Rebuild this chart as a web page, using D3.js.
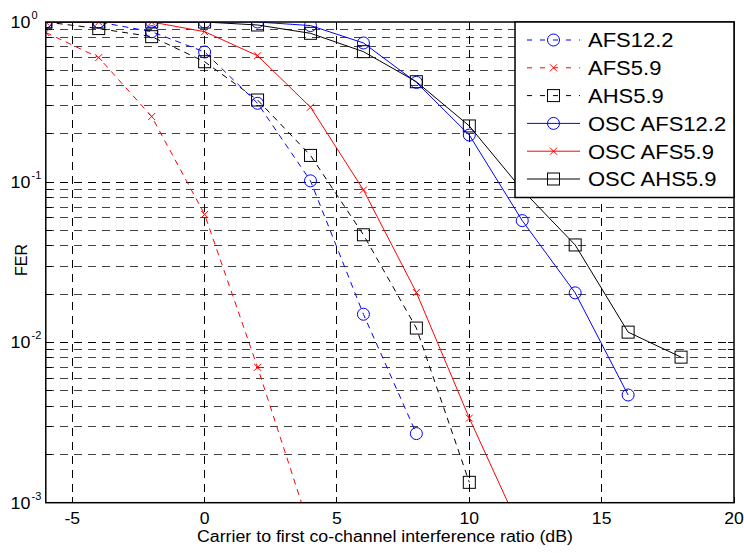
<!DOCTYPE html>
<html><head><meta charset="utf-8">
<script src="https://cdn.jsdelivr.net/npm/d3@7"></script>
<style>body{margin:0;background:#fff}svg{display:block}text{font-family:Arial,"Liberation Sans",sans-serif}</style>
</head><body><svg id="c" width="744" height="553"></svg>
<script>
const xTicks=[-5,0,5,10,15,20];
const yMajor=[1e-3,1e-2,1e-1,1];
const yExp=["-3","-2","-1","0"];
const xLabel="Carrier to first co-channel interference ratio (dB)";
const yLabel="FER";
const names=["AFS12.2","AFS5.9","AHS5.9","OSC AFS12.2","OSC AFS5.9","OSC AHS5.9"];
const colors=["#0000ff","#ff0000","#000000","#0000ff","#ff0000","#000000"];
const dashed=[true,true,true,false,false,false];
const markers=["circle","x","square","circle","x","square"];
const xAFS122=[-6,-4,-2,0,2,4,6,8];
const yAFS122=[1.0,1.0,0.87,0.65,0.311,0.102,0.015,0.0027];
const xAFS59=[-6,-4,-2,0,2,4];
const yAFS59=[0.86,0.60,0.257,0.063,0.0070,0.00067];
const xAHS59=[-6,-4,-2,0,2,4,6,8,10];
const yAHS59=[1.0,0.91,0.81,0.565,0.326,0.147,0.047,0.0123,0.00134];
const xOAFS122=[-6,-4,-2,0,2,4,6,8,10,12,14,16];
const yOAFS122=[1,1,1,1,1.0,0.95,0.74,0.42,0.197,0.0576,0.0204,0.0047];
const xOAFS59=[-6,-4,-2,0,2,4,6,8,10,12];
const yOAFS59=[1,1,1,0.87,0.616,0.294,0.0895,0.0205,0.00337,0.00064];
const xOAHS59=[-6,-4,-2,0,2,4,6,8,10,12,14,16,18];
const yOAHS59=[1,1,1,1,0.958,0.85,0.653,0.424,0.2245,0.0895,0.0406,0.0116,0.0081];
const seriesX=[xAFS122,xAFS59,xAHS59,xOAFS122,xOAFS59,xOAHS59];
const seriesY=[yAFS122,yAFS59,yAHS59,yOAFS122,yOAFS59,yOAHS59];

const L=45.8,R=734,T=22,B=502.7;
const svg=d3.select("#c");
const x=d3.scaleLinear().domain([-6,20]).range([L,R]);
const y=d3.scaleLog().domain([1e-3,1]).range([B,T]);

function stretch(t,k){const n=t.node();const w=n.getComputedTextLength();t.attr("textLength",w*k).attr("lengthAdjust","spacingAndGlyphs");return t;}

svg.append("defs").append("clipPath").attr("id","clip").append("rect")
 .attr("x",L).attr("y",T).attr("width",R-L).attr("height",B-T);

// grid
const minor=[];
for(let e=-3;e<0;e++)for(let m=1;m<10;m++)minor.push(m*Math.pow(10,e));
minor.push(1);
const g=svg.append("g");
g.selectAll("line.h").data(minor.filter(v=>v>1e-3&&v<1)).enter().append("line")
 .attr("x1",L).attr("x2",R).attr("y1",d=>y(d)).attr("y2",d=>y(d))
 .attr("stroke",d=>Math.abs(Math.log10(d)%1)<1e-9?"#000":"#444").attr("stroke-width",1)
 .attr("stroke-dasharray","8,6").attr("shape-rendering","crispEdges");
g.selectAll("line.v").data(xTicks.filter(v=>v<20)).enter().append("line")
 .attr("x1",d=>x(d)).attr("x2",d=>x(d)).attr("y1",T).attr("y2",B)
 .attr("stroke","#000").attr("stroke-width",1)
 .attr("stroke-dasharray","8,6").attr("shape-rendering","crispEdges");

// ticks (inward, all four sides)
const tk=svg.append("g").attr("stroke","#000").attr("stroke-width",1).attr("shape-rendering","crispEdges");
xTicks.forEach(v=>{
 tk.append("line").attr("x1",x(v)).attr("x2",x(v)).attr("y1",B).attr("y2",B-6);
 tk.append("line").attr("x1",x(v)).attr("x2",x(v)).attr("y1",T).attr("y2",T+6);
});
minor.filter(v=>v>=1e-3&&v<=1).forEach(v=>{
 tk.append("line").attr("x1",L).attr("x2",L+6).attr("y1",y(v)).attr("y2",y(v));
 tk.append("line").attr("x1",R).attr("x2",R-6).attr("y1",y(v)).attr("y2",y(v));
});

// series
const plot=svg.append("g").attr("clip-path","url(#clip)");
names.forEach((n,i)=>{
 const pts=seriesX[i].map((xv,j)=>[xv,seriesY[i][j]]);
 plot.append("path").datum(pts)
  .attr("d",d3.line().x(d=>x(d[0])).y(d=>y(d[1])))
  .attr("fill","none").attr("stroke",colors[i]).attr("stroke-width",1)
  .attr("stroke-dasharray",dashed[i]?"6,5":null);
 pts.forEach(p=>drawMarker(plot,markers[i],x(p[0]),y(p[1]),colors[i]));
});

function drawMarker(sel,type,cx,cy,col){
 if(type==="circle"){
  sel.append("circle").attr("cx",cx).attr("cy",cy).attr("r",6).attr("fill","none").attr("stroke",col).attr("stroke-width",1);
 }else if(type==="square"){
  sel.append("rect").attr("x",cx-6).attr("y",cy-6).attr("width",12).attr("height",12).attr("fill","none").attr("stroke",col).attr("stroke-width",1);
 }else{
  const s=3.5;
  sel.append("path").attr("d",`M${cx-s},${cy-s}L${cx+s},${cy+s}M${cx-s},${cy+s}L${cx+s},${cy-s}`).attr("stroke",col).attr("stroke-width",1).attr("fill","none");
 }
}

// frame
svg.append("rect").attr("x",L).attr("y",T).attr("width",R-L).attr("height",B-T)
 .attr("fill","none").attr("stroke","#000").attr("stroke-width",1.5);

// x tick labels
xTicks.forEach(v=>{
 stretch(svg.append("text").attr("x",x(v)).attr("y",524).attr("text-anchor","middle").attr("font-size",16).text(v),1.1);
});
// y tick labels
yMajor.forEach((v,i)=>{
 stretch(svg.append("text").attr("x",30.5).attr("y",y(v)+6).attr("text-anchor","end").attr("font-size",17).text("10"),1.05);
 svg.append("text").attr("x",31.5).attr("y",y(v)-3).attr("font-size",11).text(yExp[i]);
});
const xl=svg.append("text").attr("x",385).attr("y",542).attr("text-anchor","middle").attr("font-size",16).text(xLabel);
xl.attr("textLength",376).attr("lengthAdjust","spacingAndGlyphs");
svg.append("text").attr("transform","translate(26.5,260) rotate(-90)").attr("text-anchor","middle").attr("font-size",16).text(yLabel);

// legend
const lg=svg.append("g");
lg.append("rect").attr("x",515).attr("y",T).attr("width",R-515).attr("height",197.5-T)
 .attr("fill","#fff").attr("stroke","#000").attr("stroke-width",1.5);
names.forEach((n,i)=>{
 const cy=40+i*27.8;
 lg.append("line").attr("x1",527).attr("x2",580).attr("y1",cy).attr("y2",cy)
  .attr("stroke",colors[i]).attr("stroke-width",1).attr("stroke-dasharray",dashed[i]?"5,8":null);
 drawMarker(lg,markers[i],553.5,cy,colors[i]);
 stretch(lg.append("text").attr("x",588).attr("y",cy+7.3).attr("font-size",20).text(n),1.1);
});
</script></body></html>
